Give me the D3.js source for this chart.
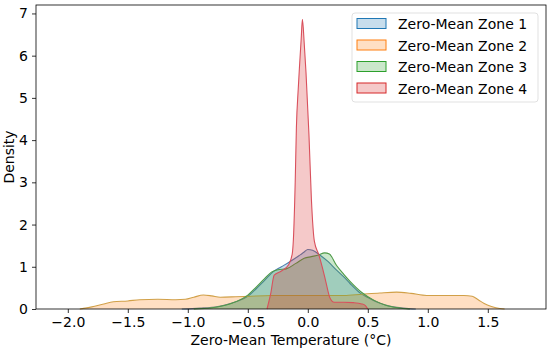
<!DOCTYPE html>
<html>
<head>
<meta charset="utf-8">
<script src="https://cdn.jsdelivr.net/npm/d3@7"></script>
<style>
  body { margin: 0; background: #fff; }
  svg text { font-family: "DejaVu Sans", sans-serif; fill: #000; }
</style>
</head>
<body>
<div id="chart"></div>
<script>
const margin = ({top: 5, right: 4, bottom: 44, left: 36});
const width = 550, height = 353;

const zones = ["Zero-Mean Zone 1", "Zero-Mean Zone 2", "Zero-Mean Zone 3", "Zero-Mean Zone 4"];
const colors = ["#1f77b4", "#ff7f0e", "#2ca02c", "#d62728"];
// edge colours in the picture look muted
const edgeColors = ["#4f7fae", "#d1a048", "#4e9a48", "#d9505c"];

const xTicks = [-2.0, -1.5, -1.0, -0.5, 0.0, 0.5, 1.0, 1.5];
const yTicks = [0, 1, 2, 3, 4, 5, 6, 7];

// density curves: [temperature, density]
const zone1 = [[-1.05,0],[-0.9,0.02],[-0.75,0.06],[-0.6,0.17],[-0.5,0.3],[-0.43,0.48],[-0.36,0.68],[-0.29,0.88],
  [-0.22,1.0],[-0.15,1.12],[-0.08,1.25],[-0.03,1.35],[0.0,1.41],[0.04,1.39],[0.1,1.28],[0.17,1.12],[0.24,0.92],
  [0.3,0.76],[0.35,0.61],[0.44,0.37],[0.5,0.27],[0.57,0.17],[0.64,0.1],[0.7,0.06],[0.8,0.02],[0.9,0]];
const zone2 = [[-1.9,0],[-1.8,0.05],[-1.7,0.12],[-1.62,0.17],[-1.5,0.19],[-1.4,0.22],[-1.25,0.23],[-1.1,0.22],
  [-1.02,0.23],[-0.95,0.28],[-0.87,0.33],[-0.8,0.31],[-0.73,0.28],[-0.6,0.29],[-0.5,0.3],[-0.3,0.32],[0.0,0.32],
  [0.3,0.32],[0.45,0.35],[0.6,0.38],[0.74,0.4],[0.86,0.37],[0.99,0.32],[1.15,0.32],[1.3,0.32],[1.37,0.3],
  [1.42,0.22],[1.47,0.13],[1.53,0.06],[1.6,0.01],[1.64,0]];
const zone3 = [[-0.95,0],[-0.8,0.03],[-0.65,0.12],[-0.55,0.24],[-0.5,0.33],[-0.43,0.52],[-0.36,0.72],[-0.3,0.88],
  [-0.25,0.93],[-0.18,0.95],[-0.1,1.08],[-0.03,1.2],[0.03,1.24],[0.09,1.28],[0.14,1.33],[0.18,1.3],[0.24,1.03],
  [0.3,0.82],[0.35,0.66],[0.45,0.39],[0.55,0.21],[0.65,0.09],[0.75,0.03],[0.85,0]];
const zone4 = [[-0.34,0],[-0.31,0.35],[-0.28,0.8],[-0.22,0.9],[-0.16,1.05],[-0.13,1.3],[-0.12,1.65],[-0.105,3.0],
  [-0.095,4.3],[-0.08,5.2],[-0.07,5.7],[-0.055,6.4],[-0.045,6.86],[-0.03,6.3],[-0.015,5.6],[0.0,4.7],[0.01,4.1],
  [0.03,2.6],[0.055,1.6],[0.09,1.3],[0.12,1.0],[0.15,0.65],[0.185,0.26],[0.22,0.16],[0.3,0.16],[0.38,0.15],
  [0.45,0.12],[0.48,0.08],[0.5,0]];
const series = [zone1, zone2, zone3, zone4];

const svg = d3.select("#chart").append("svg")
  .attr("width", width)
  .attr("height", height);

const x = d3.scaleLinear()
  .domain([-2.265, 1.985])
  .range([margin.left, width - margin.right]);

const y = d3.scaleLinear()
  .domain([0, 7.2])
  .range([height - margin.bottom, margin.top]);

const area = d3.area()
  .x(d => x(d[0]))
  .y0(y(0))
  .y1(d => y(d[1]))
  .curve(d3.curveMonotoneX);

const line = d3.line()
  .x(d => x(d[0]))
  .y(d => y(d[1]))
  .curve(d3.curveMonotoneX);

const plot = svg.append("g");

series.forEach((s, i) => {
  plot.append("path")
    .attr("d", area(s))
    .attr("fill", colors[i])
    .attr("fill-opacity", 0.25);
  plot.append("path")
    .attr("d", line(s))
    .attr("fill", "none")
    .attr("stroke", edgeColors[i])
    .attr("stroke-width", 1.1);
});

// axes
const xAxis = svg.append("g")
  .attr("transform", "translate(0," + (height - margin.bottom) + ")")
  .call(d3.axisBottom(x).tickValues(xTicks).tickSize(4).tickPadding(4)
    .tickFormat(d => d3.format(".1f")(d).replace("-", "\u2212")));

const yAxis = svg.append("g")
  .attr("transform", "translate(" + margin.left + ",0)")
  .call(d3.axisLeft(y).tickValues(yTicks).tickSize(4).tickPadding(4));

[xAxis, yAxis].forEach(a => {
  a.select(".domain").remove();
  a.selectAll("text").style("font-size", "14px").attr("fill", "#000");
  a.selectAll("line").attr("stroke", "#000").attr("stroke-width", 0.8);
});

svg.append("rect")
  .attr("x", margin.left)
  .attr("y", margin.top)
  .attr("width", width - margin.left - margin.right)
  .attr("height", height - margin.top - margin.bottom)
  .attr("fill", "none")
  .attr("stroke", "#000")
  .attr("stroke-width", 0.8);

svg.append("text")
  .attr("x", (margin.left + width - margin.right) / 2)
  .attr("y", height - 8)
  .attr("text-anchor", "middle")
  .style("font-size", "14px")
  .text("Zero-Mean Temperature (\u00b0C)");

svg.append("text")
  .attr("transform", "translate(14," + ((margin.top + height - margin.bottom) / 2) + ")rotate(-90)")
  .attr("text-anchor", "middle")
  .style("font-size", "14px")
  .text("Density");

// legend
const legend = svg.append("g")
  .attr("transform", "translate(352,13)");

legend.append("rect")
  .attr("width", 186)
  .attr("height", 89)
  .attr("rx", 3)
  .attr("fill", "#fff")
  .attr("fill-opacity", 0.8)
  .attr("stroke", "#d9d9d9")
  .attr("stroke-width", 0.8);

const items = legend.selectAll("g.item")
  .data(zones)
  .enter().append("g")
  .attr("class", "item")
  .attr("transform", (d, i) => "translate(0," + (11 + i * 21.5) + ")");

items.append("rect")
  .attr("x", 5)
  .attr("y", -5.5)
  .attr("width", 29)
  .attr("height", 10)
  .attr("fill", (d, i) => colors[i])
  .attr("fill-opacity", 0.25)
  .attr("stroke", (d, i) => colors[i])
  .attr("stroke-width", 1);

items.append("text")
  .attr("x", 46)
  .attr("y", 5)
  .style("font-size", "14px")
  .text(d => d);
</script>
</body>
</html>
